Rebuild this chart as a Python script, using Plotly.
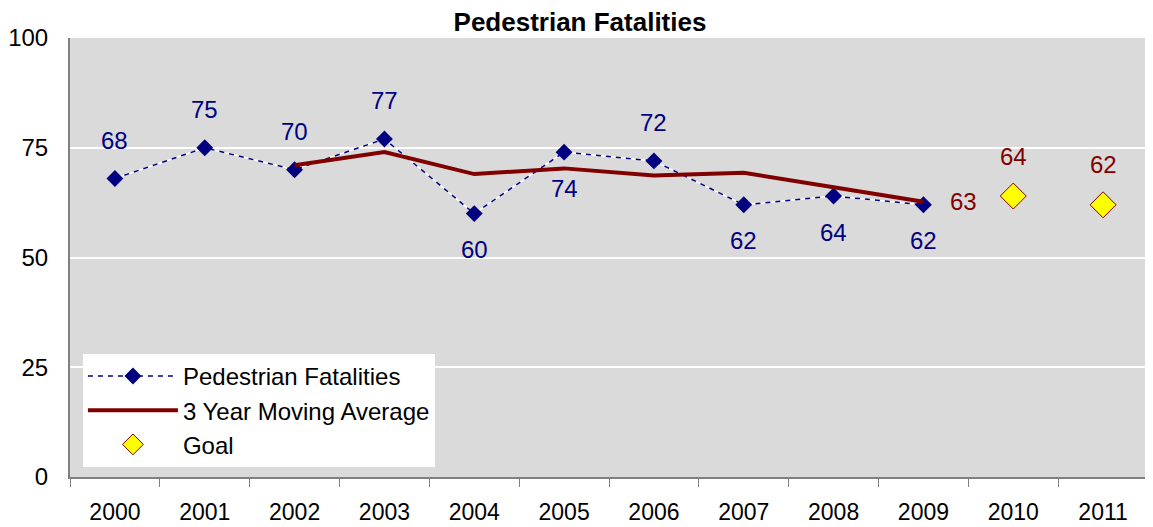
import plotly.graph_objects as go

years = ["2000", "2001", "2002", "2003", "2004", "2005", "2006", "2007", "2008", "2009", "2010", "2011"]
ped_years = years[:10]
ped_values = [68, 75, 70, 77, 60, 74, 72, 62, 64, 62]
ped_label_pos = ["above", "above", "above", "above", "below", "below", "above", "below", "below", "below"]
ma_years = years[2:10]
ma_values = [71, 74, 69, 70.3, 68.7, 69.3, 66, 62.7]
goal_years = years[10:]
goal_values = [64, 62]
y_ticks = [0, 25, 50, 75, 100]

NAVY = "#000080"
DARKRED = "#800000"
FONT = "Liberation Sans, Arial, sans-serif"
FS = 24

fig = go.Figure()

# white underlay for the dashed line (Excel-style gaps)
fig.add_trace(go.Scatter(x=ped_years, y=ped_values, mode="lines",
                         line=dict(color="white", width=1.5),
                         showlegend=False, hoverinfo="skip"))
fig.add_trace(go.Scatter(x=ped_years, y=ped_values, mode="lines+markers",
                         name="Pedestrian Fatalities",
                         line=dict(color=NAVY, width=1.5, dash="5px,5px"),
                         marker=dict(symbol="diamond", size=13, color=NAVY)))
fig.add_trace(go.Scatter(x=ma_years, y=ma_values, mode="lines",
                         name="3 Year Moving Average",
                         line=dict(color=DARKRED, width=4)))
fig.add_trace(go.Scatter(x=goal_years, y=goal_values, mode="markers",
                         name="Goal",
                         marker=dict(symbol="diamond", size=20, color="#FFFF00",
                                     line=dict(color=DARKRED, width=1))))

idx = {y: i for i, y in enumerate(years)}
ann = []
for x, v, p in zip(ped_years, ped_values, ped_label_pos):
    ann.append(dict(x=idx[x], y=v, xref="x", yref="y", text=str(v), showarrow=False,
                    yshift=38 if p == "above" else -36,
                    font=dict(color=NAVY, size=FS, family=FONT)))
ann.append(dict(x=idx[ma_years[-1]], y=ma_values[-1], xref="x", yref="y",
                text=str(round(ma_values[-1])), showarrow=False, xshift=40,
                font=dict(color=DARKRED, size=FS, family=FONT)))
for x, v in zip(goal_years, goal_values):
    ann.append(dict(x=idx[x], y=v, xref="x", yref="y", text=str(v), showarrow=False,
                    yshift=40, font=dict(color=DARKRED, size=FS, family=FONT)))

fig.update_layout(
    width=1145, height=519,
    margin=dict(l=62, r=5, t=30, b=50, autoexpand=False),
    paper_bgcolor="white",
    plot_bgcolor="#DADADA",
    font=dict(family=FONT, size=FS, color="black"),
    title=dict(text="<b>Pedestrian Fatalities</b>", x=572 / 1145, xanchor="center",
               y=1 - 14 / 519, yanchor="middle", xref="container", yref="container",
               font=dict(size=26, family=FONT, color="black")),
    annotations=ann,
    showlegend=True,
    legend=dict(x=0.012, y=0.023, xanchor="left", yanchor="bottom",
                bgcolor="white", borderwidth=0, font=dict(size=FS, family=FONT),
                itemwidth=90, tracegroupgap=0),
    xaxis=dict(type="category", categoryorder="array", categoryarray=years,
               range=[-0.5, 11.5], showgrid=False, ticks="outside", tickson="boundaries",
               ticklen=8, tickcolor="#808080", showline=True, linecolor="#808080",
               linewidth=2, tickfont=dict(size=23, family=FONT), ticklabelstandoff=13,
               automargin=False, fixedrange=True),
    yaxis=dict(range=[0, 100], tickvals=y_ticks, showgrid=True, gridcolor="white",
               gridwidth=2, zeroline=False, showline=True, linecolor="#808080",
               linewidth=2, ticks="", tickfont=dict(size=FS, family=FONT),
               ticklabelstandoff=15, automargin=False),
)

fig.write_html("out.html")
